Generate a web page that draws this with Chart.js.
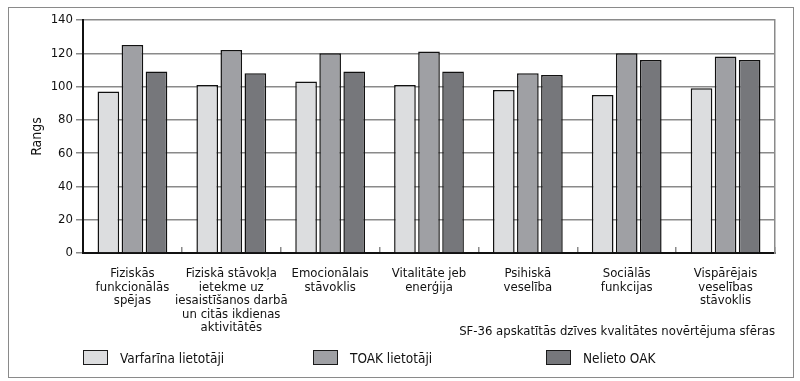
<!DOCTYPE html>
<html lang="lv">
<head>
<meta charset="utf-8">
<script src="https://cdn.jsdelivr.net/npm/chart.js@4.4.0/dist/chart.umd.min.js"></script>
<style>
  body { margin: 0; background: #fff; }
  #wrap { position: relative; width: 800px; height: 381px; }
  #frame { position: absolute; left: 8px; top: 7px; width: 784px; height: 369px; border: 1.5px solid #8a8a8a; }
  #chart { position: absolute; left: 0; top: 0; }
  #legend { position: absolute; left: 0; top: 349px; width: 800px; height: 18px;
            font-family: 'Liberation Sans Narrow', 'DejaVu Sans Condensed', sans-serif; font-size: 13.5px; color: #111; }
  .item { position: absolute; top: 0; height: 18px; }
  .box { position: absolute; top: 1px; width: 23px; height: 13px; border: 1.5px solid #1a1a1a; }
  .txt { position: absolute; top: 1px; white-space: nowrap; line-height: 16px; }
</style>
</head>
<body>
<div id="wrap">
  <div id="frame"></div>
  <canvas id="chart" width="800" height="381"></canvas>
  <div id="legend"></div>
</div>
<script>
// SF-36 domēni
const categories = [
  ['Fiziskās', 'funkcionālās', 'spējas'],
  ['Fiziskā stāvokļa', 'ietekme uz', 'iesaistīšanos darbā', 'un citās ikdienas', 'aktivitātēs'],
  ['Emocionālais', 'stāvoklis'],
  ['Vitalitāte jeb', 'enerģija'],
  ['Psihiskā', 'veselība'],
  ['Sociālās', 'funkcijas'],
  ['Vispārējais', 'veselības', 'stāvoklis']
];
const seriesNames = ['Varfarīna lietotāji', 'TOAK lietotāji', 'Nelieto OAK'];
const varfarina = [97, 101, 103, 101, 98, 95, 99];
const toak = [125, 122, 120, 121, 108, 120, 118];
const nelieto = [109, 108, 109, 109, 107, 116, 116];
const yTicks = [0, 20, 40, 60, 80, 100, 120, 140];

const colors = ['#dcdddf', '#9fa0a4', '#76777b'];
const fontNarrow = "'Liberation Sans Narrow', 'DejaVu Sans Condensed', sans-serif";

const datasets = [varfarina, toak, nelieto].map((vals, i) => ({
  label: seriesNames[i],
  data: vals,
  backgroundColor: colors[i],
  borderColor: '#111',
  borderWidth: 1.5,
  categoryPercentage: 0.73,
  barPercentage: 0.9
}));

new Chart(document.getElementById('chart'), {
  type: 'bar',
  data: { labels: categories, datasets: datasets },
  options: {
    responsive: false,
    animation: false,
    layout: { padding: { left: 0, top: 20, right: 25, bottom: 40 } },
    plugins: { legend: { display: false }, tooltip: { enabled: false } },
    scales: {
      x: {
        grid: { offset: true, drawOnChartArea: false, drawTicks: true, tickLength: -6, color: '#8a8a8a', lineWidth: 1.5 },
        border: { color: '#111', width: 2 },
        ticks: { color: '#111', padding: 20, maxRotation: 0, autoSkip: false,
                 font: { family: fontNarrow, size: 13, lineHeight: 1.04 } },
        title: { display: true, text: 'SF-36 apskatītās dzīves kvalitātes novērtējuma sfēras', align: 'end',
                 color: '#111', padding: { top: 0, bottom: 2 }, font: { family: fontNarrow, size: 13 } },
        afterFit: (s) => { s.height = 88; }
      },
      y: {
        min: 0, max: 140,
        afterBuildTicks: (s) => { s.ticks = yTicks.map(v => ({ value: v })); },
        grid: { color: '#8a8a8a', lineWidth: 1.5, tickLength: 7 },
        border: { color: '#111', width: 2 },
        ticks: { color: '#111', padding: 3, font: { family: fontNarrow, size: 13 } },
        title: { display: true, text: 'Rangs', color: '#111', padding: { top: 0, bottom: 0 },
                 font: { family: fontNarrow, size: 14 } },
        afterFit: (s) => { s.width = 83; }
      },
      yRight: {
        position: 'right', min: 0, max: 140,
        grid: { drawOnChartArea: false, drawTicks: false },
        border: { color: '#8a8a8a', width: 1.5 },
        ticks: { display: false },
        afterFit: (s) => { s.width = 0; }
      }
    }
  },
  plugins: [{
    // "Rangs" nobīde pa labi
    id: 'titleShift',
    beforeDraw: (chart) => { chart.scales.y.options.title.padding = { top: 29, bottom: 0 }; }
  }]
});

// leģenda
const legendX = [83, 313, 546];
const legend = document.getElementById('legend');
seriesNames.forEach((name, i) => {
  const it = document.createElement('div');
  it.className = 'item';
  it.style.left = legendX[i] + 'px';
  it.innerHTML = '<span class="box" style="background:' + colors[i] + '"></span><span class="txt" style="left:37px">' + name + '</span>';
  legend.appendChild(it);
});
</script>
</body>
</html>
